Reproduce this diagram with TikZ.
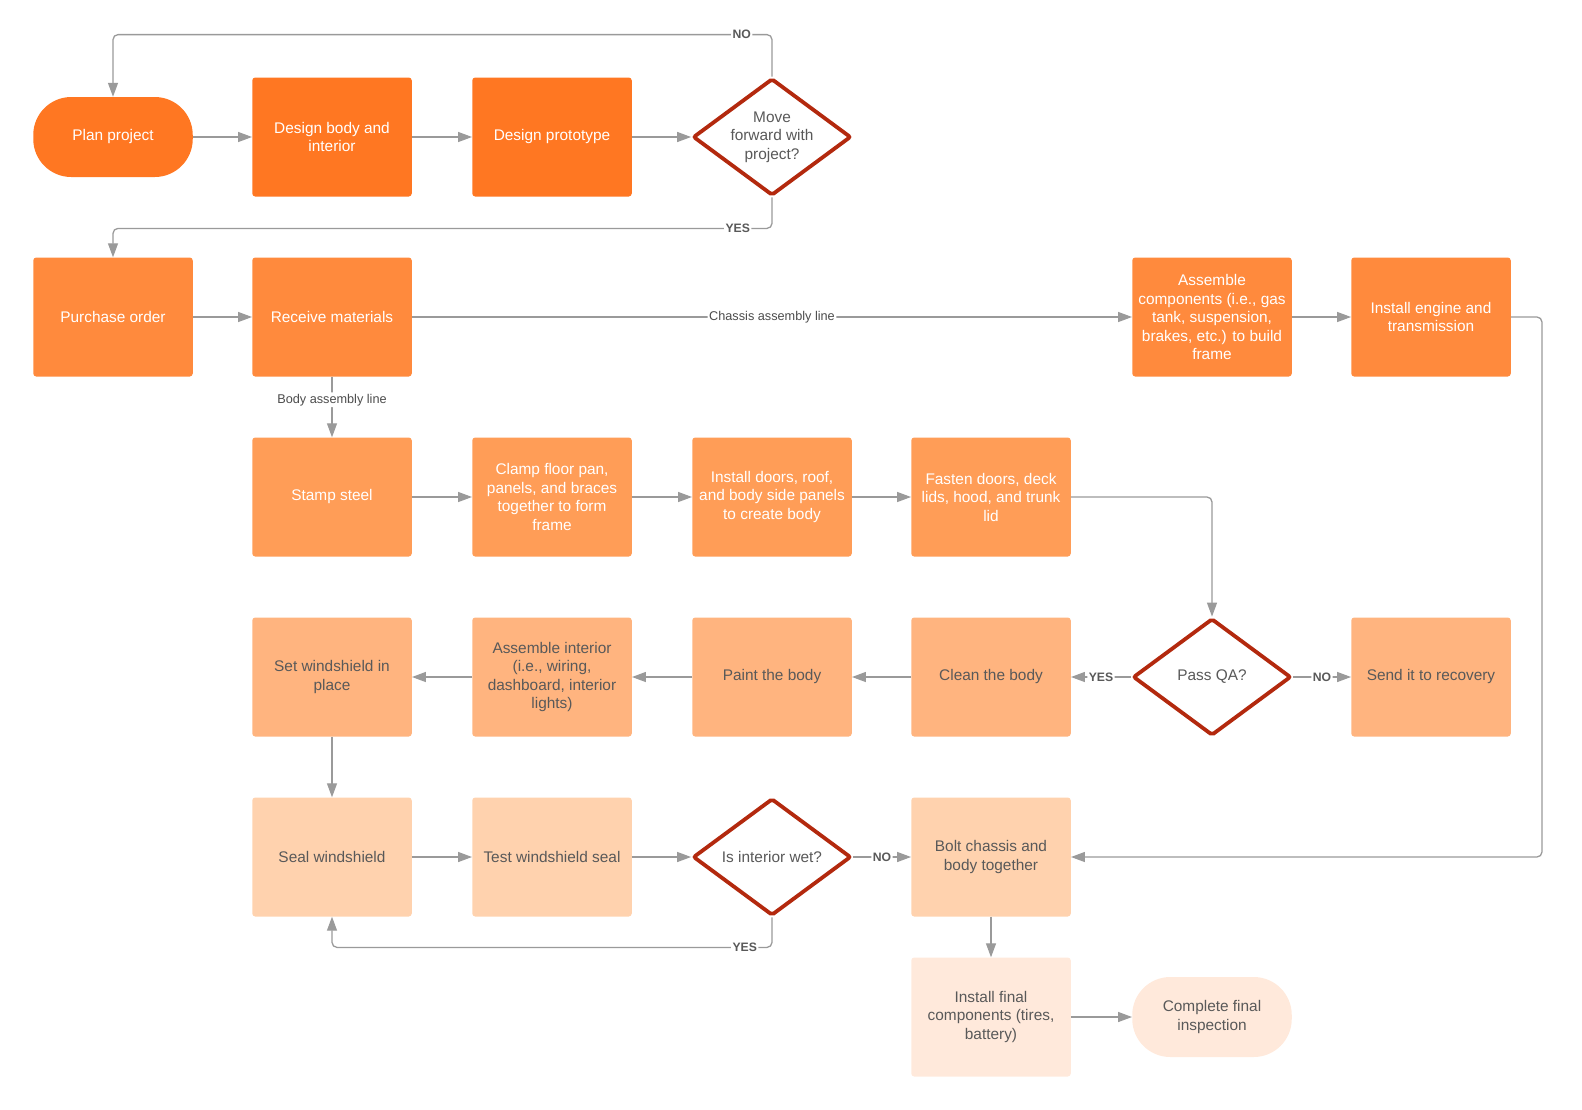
\documentclass[tikz,border=0pt]{standalone}
\usepackage{fontspec}
\setmainfont{Liberation Sans}
\usetikzlibrary{shapes.geometric,arrows.meta}
\definecolor{rowA}{HTML}{FF7722}
\definecolor{rowB}{HTML}{FF8A3D}
\definecolor{rowC}{HTML}{FF9D57}
\definecolor{rowD}{HTML}{FFB47F}
\definecolor{rowE}{HTML}{FFD2AE}
\definecolor{rowF}{HTML}{FFE9DB}
\definecolor{qred}{HTML}{B3290E}
\definecolor{gline}{HTML}{9A9A9A}
\definecolor{txt}{HTML}{595959}
\begin{document}
\begin{tikzpicture}[x=1pt,y=-1pt,
  box/.style={rectangle,rounded corners=3pt,minimum width=159.5pt,minimum height=119pt,
    align=center,inner sep=2pt,font=\fontsize{15.4pt}{18.5pt}\selectfont},
  term/.style={box,rounded corners=38pt,minimum height=80pt},
  light/.style={text=white},
  dark/.style={text=txt},
  ask/.style={diamond,draw=qred,line width=3.8pt,fill=white,rounded corners=2pt,
    minimum width=158pt,minimum height=117pt,aspect=1.33,inner sep=0pt,align=center,
    text=txt,font=\fontsize{15.4pt}{18.5pt}\selectfont},
  flow/.style={draw=gline,line width=1.3pt,-{Triangle[length=14pt,width=10pt]},rounded corners=5pt},
  lbl/.style={fill=white,inner sep=1.5pt,text=txt,font=\bfseries\fontsize{12.2pt}{14pt}\selectfont},
  tag/.style={fill=white,inner sep=1.5pt,text=txt!85!black,font=\fontsize{12.7pt}{15pt}\selectfont}]
\useasboundingbox (0,0) rectangle (1582,1109);
% design
\node[term,fill=rowA,light] (plan) at (113,137) {Plan project};
\node[box,fill=rowA,light] (dbody) at (332,137) {Design body and\\interior};
\node[box,fill=rowA,light] (proto) at (552,137) {Design prototype};
\node[ask] (go) at (772,137) {Move\\forward with\\project?};
% materials and chassis
\node[box,fill=rowB,light] (order) at (113,317) {Purchase order};
\node[box,fill=rowB,light] (recv) at (332,317) {Receive materials};
\node[box,fill=rowB,light] (frame) at (1212,317) {Assemble\\components (i.e., gas\\tank, suspension,\\brakes, etc.) to build\\frame};
\node[box,fill=rowB,light] (engine) at (1431,317) {Install engine and\\transmission};
% body
\node[box,fill=rowC,light] (stamp) at (332,497) {Stamp steel};
\node[box,fill=rowC,light] (clamp) at (552,497) {Clamp floor pan,\\panels, and braces\\together to form\\frame};
\node[box,fill=rowC,light] (doors) at (772,497) {Install doors, roof,\\and body side panels\\to create body};
\node[box,fill=rowC,light] (fasten) at (991,497) {Fasten doors, deck\\lids, hood, and trunk\\lid};
\node[box,fill=rowD,dark] (setws) at (332,677) {Set windshield in\\place};
\node[box,fill=rowD,dark] (inter) at (552,677) {Assemble interior\\(i.e., wiring,\\dashboard, interior\\lights)};
\node[box,fill=rowD,dark] (paint) at (772,677) {Paint the body};
\node[box,fill=rowD,dark] (clean) at (991,677) {Clean the body};
\node[ask] (qa) at (1212,677) {Pass QA?};
\node[box,fill=rowD,dark] (recov) at (1431,677) {Send it to recovery};
\node[box,fill=rowE,dark] (seal) at (332,857) {Seal windshield};
\node[box,fill=rowE,dark] (test) at (552,857) {Test windshield seal};
\node[ask] (wet) at (772,857) {Is interior wet?};
\node[box,fill=rowE,dark] (bolt) at (991,857) {Bolt chassis and\\body together};
\node[box,fill=rowF,dark] (final) at (991,1017) {Install final\\components (tires,\\battery)};
\node[term,fill=rowF,dark] (inspect) at (1212,1017) {Complete final\\inspection};
% connectors
\foreach \a/\b in {plan/dbody,dbody/proto,proto/go,order/recv,frame/engine,
  stamp/clamp,clamp/doors,doors/fasten,clean/paint,paint/inter,inter/setws,
  setws/seal,seal/test,test/wet,bolt/final,final/inspect}
  \draw[flow] (\a) -- (\b);
\draw[flow] (go.north) -- ++(0,-42) -| node[lbl,pos=0.023] {NO} (plan.north);
\draw[flow] (go.south) -- ++(0,31) -| node[lbl,pos=0.026] {YES} (order.north);
\draw[flow] (recv) -- node[tag] {Chassis assembly line} (frame);
\draw[flow] (recv) -- node[tag,pos=0.38] {Body assembly line} (stamp);
\draw[flow] (engine.east) -- ++(31,0) |- (bolt.east);
\draw[flow] (fasten.east) -| (qa.north);
\draw[flow] (qa) -- node[lbl] {YES} (clean);
\draw[flow] (qa) -- node[lbl] {NO} (recov);
\draw[flow] (wet) -- node[lbl] {NO} (bolt);
\draw[flow] (wet.south) -- ++(0,30) -| node[lbl,pos=0.031] {YES} (seal.south);
\end{tikzpicture}
\end{document}
